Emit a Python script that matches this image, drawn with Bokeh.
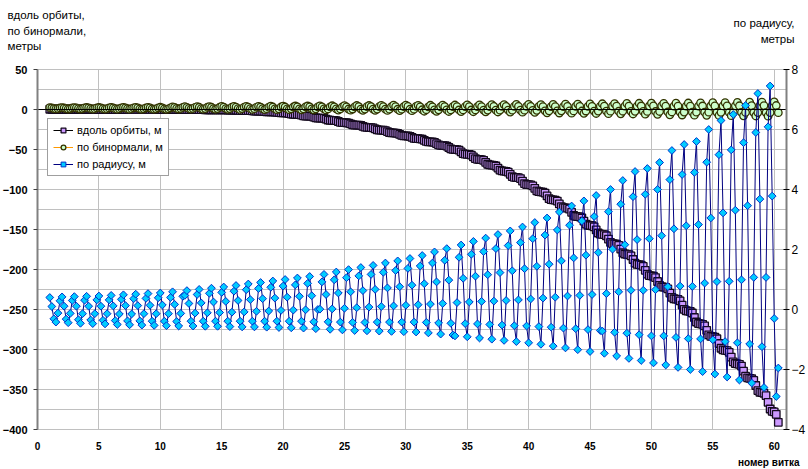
import numpy as np
from bokeh.plotting import figure
from bokeh.models import (Range1d, LinearAxis, FixedTicker, Label, Legend,
                          LegendItem, ColumnDataSource, Grid)
from bokeh.embed import file_html
from bokeh.resources import INLINE

# ---------------- data ----------------
# six samples per orbit, starting at orbit 1
samples_per_orbit = 6
first_orbit = 1

along_orbit_m = [
    0.3, 0.3, 0.3, 0.3, 0.3, 0.3,
    0.3, 0.3, 0.3, 0.3, 0.3, 0.3,
    0.3, 0.3, 0.3, 0.3, 0.3, 0.3,
    0.3, 0.3, 0.3, 0.25, 0.2, 0.2,
    0.2, 0.2, 0.2, 0.2, 0.2, 0.2,
    0.2, 0.2, 0.2, 0.2, 0.2, 0.2,
    0.2, 0.2, 0.2, 0.15, 0.1, 0.1,
    0.1, 0.1, 0.1, 0.1, 0.1, 0.1,
    0.1, 0.1, 0.1, 0.05, 0.0, 0.0,
    0.0, 0.0, 0.0, 0.0, 0.0, 0.0,
    0.0, 0.0, 0.0, -0.05, -0.1, -0.1,
    -0.1, -0.1, -0.1, -0.15, -0.2, -0.2,
    -0.2, -0.2, -0.2, -0.25, -0.3, -0.3,
    -0.3, -0.3, -0.33, -0.4, -0.47, -0.5,
    -0.5, -0.51, -0.56, -0.7, -0.84, -0.89,
    -0.9, -0.92, -0.98, -1.15, -1.33, -1.39,
    -1.4, -1.42, -1.51, -1.75, -2.0, -2.08,
    -2.1, -2.13, -2.24, -2.55, -2.87, -2.97,
    -3.0, -3.04, -3.18, -3.6, -4.02, -4.16,
    -4.2, -4.25, -4.47, -5.1, -5.73, -5.95,
    -6.0, -6.07, -6.35, -7.15, -7.96, -8.23,
    -8.3, -8.38, -8.68, -9.55, -10.43, -10.73,
    -10.8, -10.88, -11.21, -12.15, -13.1, -13.42,
    -13.5, -13.59, -13.95, -15.0, -16.05, -16.41,
    -16.5, -16.59, -16.95, -18.0, -19.05, -19.41,
    -19.5, -19.59, -19.95, -21.0, -22.05, -22.41,
    -22.5, -22.6, -23.0, -24.15, -25.3, -25.7,
    -25.8, -25.91, -26.33, -27.55, -28.78, -29.2,
    -29.3, -29.41, -29.86, -31.15, -32.45, -32.89,
    -33.0, -33.11, -33.53, -34.75, -35.98, -36.4,
    -36.5, -36.62, -37.1, -38.5, -39.9, -40.38,
    -40.5, -40.64, -41.18, -42.75, -44.33, -44.87,
    -45.0, -45.15, -45.75, -47.5, -49.25, -49.85,
    -50.0, -50.18, -50.9, -53.0, -55.1, -55.82,
    -56.0, -56.2, -56.98, -59.25, -61.53, -62.31,
    -62.5, -62.71, -63.55, -66.0, -68.45, -69.29,
    -69.5, -69.73, -70.63, -73.25, -75.88, -76.78,
    -77.0, -77.24, -78.2, -81.0, -83.8, -84.76,
    -85.0, -85.27, -86.35, -89.5, -92.65, -93.73,
    -94.0, -94.27, -95.35, -98.5, -101.65, -102.73,
    -103.0, -103.3, -104.5, -108.0, -111.5, -112.7,
    -113.0, -113.3, -114.5, -118.0, -121.5, -122.7,
    -123.0, -123.33, -124.65, -128.5, -132.35, -133.67,
    -134.0, -134.33, -135.65, -139.5, -143.35, -144.67,
    -145.0, -145.33, -146.65, -150.5, -154.35, -155.67,
    -156.0, -156.36, -157.8, -162.0, -166.2, -167.64,
    -168.0, -168.39, -169.95, -174.5, -179.05, -180.61,
    -181.0, -181.39, -182.95, -187.5, -192.05, -193.61,
    -194.0, -194.42, -196.1, -201.0, -205.9, -207.58,
    -208.0, -208.42, -210.1, -215.0, -219.9, -221.58,
    -222.0, -222.45, -224.25, -229.5, -234.75, -236.55,
    -237.0, -237.45, -239.25, -244.5, -249.75, -251.55,
    -252.0, -252.48, -254.4, -260.0, -265.6, -267.52,
    -268.0, -268.48, -270.4, -276.0, -281.6, -283.52,
    -284.0, -284.51, -286.55, -292.5, -298.45, -300.49,
    -301.0, -301.51, -303.55, -309.5, -315.45, -317.49,
    -318.0, -318.54, -320.7, -327.0, -333.3, -335.46,
    -336.0, -336.54, -338.7, -345.0, -351.3, -353.46,
    -354.0, -354.7, -357.6, -366.0, -374.4, -377.3,
    -378.0, -381.0, -391.0,
]

binormal_m = [
    2.3, 1.9, 1.1, 0.7, 1.1, 1.9,
    2.4, 1.9, 1.1, 0.6, 1.1, 1.9,
    2.4, 2.0, 1.1, 0.6, 1.1, 2.0,
    2.5, 2.0, 1.0, 0.5, 1.0, 2.0,
    2.5, 2.0, 1.0, 0.5, 1.0, 2.0,
    2.6, 2.0, 1.0, 0.4, 1.0, 2.0,
    2.6, 2.1, 1.0, 0.4, 1.0, 2.1,
    2.7, 2.1, 0.9, 0.3, 0.9, 2.1,
    2.7, 2.1, 0.9, 0.3, 0.9, 2.1,
    2.8, 2.1, 0.9, 0.2, 0.9, 2.1,
    3.4, 2.7, 1.3, 0.6, 1.3, 2.7,
    3.5, 2.7, 1.3, 0.5, 1.3, 2.7,
    3.6, 2.8, 1.2, 0.4, 1.2, 2.8,
    3.7, 2.8, 1.2, 0.3, 1.2, 2.8,
    3.8, 2.9, 1.1, 0.2, 1.1, 2.9,
    3.9, 2.9, 1.1, 0.1, 1.1, 2.9,
    4.0, 3.0, 1.0, 0.0, 1.0, 3.0,
    4.0, 3.0, 1.0, -0.1, 1.0, 3.0,
    4.2, 3.1, 0.9, -0.2, 0.9, 3.1,
    4.2, 3.1, 0.9, -0.2, 0.9, 3.1,
    4.4, 3.2, 0.8, -0.4, 0.8, 3.2,
    4.4, 3.2, 0.8, -0.4, 0.8, 3.2,
    4.6, 3.3, 0.7, -0.6, 0.7, 3.3,
    4.7, 3.4, 0.7, -0.7, 0.7, 3.4,
    4.8, 3.4, 0.6, -0.8, 0.6, 3.4,
    5.0, 3.5, 0.5, -1.0, 0.5, 3.5,
    5.0, 3.5, 0.5, -1.0, 0.5, 3.5,
    5.2, 3.6, 0.4, -1.2, 0.4, 3.6,
    5.4, 3.7, 0.3, -1.4, 0.3, 3.7,
    5.5, 3.8, 0.3, -1.5, 0.3, 3.8,
    5.2, 3.3, -0.3, -2.2, -0.3, 3.3,
    5.3, 3.4, -0.4, -2.3, -0.4, 3.4,
    5.5, 3.5, -0.5, -2.5, -0.5, 3.5,
    5.6, 3.6, -0.6, -2.6, -0.6, 3.6,
    5.8, 3.6, -0.6, -2.8, -0.6, 3.6,
    5.9, 3.7, -0.7, -2.9, -0.7, 3.7,
    6.1, 3.8, -0.8, -3.1, -0.8, 3.8,
    6.2, 3.9, -0.9, -3.2, -0.9, 3.9,
    6.4, 3.9, -0.9, -3.4, -0.9, 3.9,
    6.5, 4.0, -1.0, -3.5, -1.0, 4.0,
    6.2, 3.6, -1.6, -4.2, -1.6, 3.6,
    6.4, 3.7, -1.7, -4.4, -1.7, 3.7,
    6.6, 3.8, -1.8, -4.6, -1.8, 3.8,
    6.8, 3.9, -1.9, -4.8, -1.9, 3.9,
    7.0, 4.0, -2.0, -5.0, -2.0, 4.0,
    7.2, 4.1, -2.1, -5.2, -2.1, 4.1,
    7.4, 4.2, -2.2, -5.4, -2.2, 4.2,
    7.6, 4.3, -2.3, -5.6, -2.3, 4.3,
    7.8, 4.4, -2.4, -5.8, -2.4, 4.4,
    8.0, 4.5, -2.5, -6.0, -2.5, 4.5,
    7.7, 4.1, -3.1, -6.7, -3.1, 4.1,
    7.9, 4.2, -3.2, -6.9, -3.2, 4.2,
    8.1, 4.3, -3.3, -7.1, -3.3, 4.3,
    8.3, 4.4, -3.4, -7.3, -3.4, 4.4,
    8.5, 4.5, -3.5, -7.5, -3.5, 4.5,
    8.7, 4.6, -3.6, -7.7, -3.6, 4.6,
    8.9, 4.7, -3.7, -7.9, -3.7, 4.7,
    9.1, 4.8, -3.8, -8.1, -3.8, 4.8,
    9.3, 4.9, -3.9, -8.3, -3.9, 4.9,
    9.5, 5.0, -4.0,
]

radial_m = [
    0.40, 0.10, -0.31, -0.42, -0.12, 0.29,
    0.42, 0.11, -0.32, -0.44, -0.13, 0.30,
    0.43, 0.11, -0.34, -0.46, -0.14, 0.31,
    0.44, 0.11, -0.35, -0.47, -0.14, 0.32,
    0.45, 0.11, -0.36, -0.48, -0.14, 0.32,
    0.47, 0.12, -0.37, -0.50, -0.15, 0.34,
    0.49, 0.13, -0.38, -0.51, -0.15, 0.36,
    0.51, 0.13, -0.38, -0.52, -0.14, 0.37,
    0.53, 0.14, -0.39, -0.53, -0.14, 0.39,
    0.55, 0.15, -0.39, -0.54, -0.14, 0.40,
    0.59, 0.17, -0.40, -0.55, -0.13, 0.44,
    0.47, 0.63, 0.20, -0.39, -0.55, -0.12,
    0.50, 0.67, 0.22, -0.39, -0.56, -0.11,
    0.54, 0.71, 0.25, -0.39, -0.56, -0.10,
    0.57, 0.75, 0.27, -0.39, -0.57, -0.09,
    0.61, 0.80, 0.30, -0.39, -0.58, -0.08,
    0.66, 0.85, 0.33, -0.39, -0.58, -0.06,
    0.70, 0.90, 0.36, -0.39, -0.59, -0.05,
    0.74, 0.95, 0.38, -0.39, -0.60, -0.03,
    0.78, 1.00, 0.41, -0.39, -0.61, -0.02,
    0.82, 1.05, 0.44, -0.39, -0.62, -0.01,
    0.87, 1.10, 0.46, -0.41, -0.64, 0.00,
    0.01, 0.92, 1.17, 0.50, -0.41, -0.66,
    0.02, 0.99, 1.25, 0.55, -0.42, -0.68,
    0.04, 1.06, 1.33, 0.59, -0.43, -0.70,
    0.06, 1.12, 1.40, 0.63, -0.43, -0.71,
    0.08, 1.17, 1.47, 0.67, -0.42, -0.72,
    0.10, 1.24, 1.55, 0.72, -0.42, -0.73,
    0.12, 1.30, 1.62, 0.76, -0.42, -0.74,
    0.14, 1.37, 1.70, 0.81, -0.42, -0.75,
    0.16, 1.45, 1.80, 0.86, -0.43, -0.78,
    0.18, 1.55, 1.92, 0.92, -0.45, -0.82,
    0.20, 1.64, 2.03, 0.98, -0.46, -0.85,
    -0.88, 0.23, 1.74, 2.15, 1.04, -0.47,
    -0.91, 0.25, 1.84, 2.27, 1.11, -0.48,
    -0.95, 0.27, 1.93, 2.38, 1.16, -0.50,
    -0.99, 0.28, 2.03, 2.50, 1.23, -0.52,
    -1.03, 0.30, 2.13, 2.62, 1.29, -0.54,
    -1.07, 0.32, 2.23, 2.75, 1.36, -0.55,
    -1.11, 0.35, 2.36, 2.90, 1.44, -0.57,
    -1.16, 0.38, 2.48, 3.05, 1.51, -0.59,
    -1.22, 0.41, 2.65, 3.25, 1.62, -0.62,
    -1.28, 0.45, 2.81, 3.45, 1.72, -0.64,
    -1.34, 0.47, 2.95, 3.62, 1.81, -0.67,
    -1.40, 0.50, 3.10, 3.80, 1.90, -0.70,
    -0.72, -1.46, 0.53, 3.26, 4.00, 2.01,
    -0.76, -1.55, 0.59, 3.51, 4.30, 2.16,
    -0.79, -1.63, 0.64, 3.76, 4.60, 2.33,
    -0.84, -1.70, 0.64, 3.84, 4.70, 2.36,
    -0.88, -1.78, 0.66, 4.00, 4.90, 2.46,
    -0.88, -1.85, 0.76, 4.33, 5.30, 2.69,
    -0.93, -1.93, 0.78, 4.50, 5.50, 2.79,
    -0.97, -2.00, 0.77, 4.57, 5.60, 2.83,
    -0.98, -2.07, 0.88, 4.91, 6.00, 3.05,
    -1.01, -2.15, 0.93, 5.16, 6.30, 3.22,
    -1.07, -2.25, 0.94, 5.32, 6.50, 3.31,
    -1.11, -2.35, 0.99, 5.56, 6.80, 3.46,
    -1.15, -2.45, 1.07, 5.90, 7.20, 3.68,
    -1.24, -2.60, 1.07, 6.09, 7.45, 3.78,
    -0.30, -2.90, -1.95,
]

x_ticks = [0, 5, 10, 15, 20, 25, 30, 35, 40, 45, 50, 55, 60]
left_ticks = [-400, -350, -300, -250, -200, -150, -100, -50, 0, 50]
right_ticks = [-4, -2, 0, 2, 4, 6, 8]
left_grid = [-400, -375, -350, -325, -300, -275, -250, -225, -200, -175, -150,
             -125, -100, -75, -50, -25, 0, 25, 50]

series_names = ["вдоль орбиты, м", "по бинормали, м", "по радиусу, м"]
left_title = ["вдоль орбиты,", "по бинормали,", "метры"]
right_title = ["по радиусу,", "метры"]
x_title = "номер витка"

# ---------------- layout geometry ----------------
FONT = "Liberation Sans"
W, H = 808, 469
X_MIN, X_MAX = 0, 61          # x extent of the plotting area
L_MIN, L_MAX = -400, 50       # left axis extent
R_MIN, R_MAX = -4, 8          # right axis extent
AREA_L, AREA_R, AREA_T, AREA_B = 37, 786, 69, 429   # plotting area, pixels

sx = (AREA_R - AREA_L) / (X_MAX - X_MIN)
sl = (AREA_B - AREA_T) / (L_MAX - L_MIN)
sr = (AREA_B - AREA_T) / (R_MAX - R_MIN)
x_range = Range1d(X_MIN - AREA_L / sx, X_MAX + (W - AREA_R) / sx)
y_range = Range1d(L_MIN - (H - AREA_B) / sl, L_MAX + AREA_T / sl)
r_range = Range1d(R_MIN - (H - AREA_B) / sr, R_MAX + AREA_T / sr)

def px_to_x(px):
    return X_MIN + (px - AREA_L) / sx

def py_to_y(py):
    return L_MAX - (py - AREA_T) / sl

n = len(radial_m)
orbit = first_orbit + np.arange(n) / samples_per_orbit
src = ColumnDataSource(dict(x=orbit, along=along_orbit_m,
                            binormal=binormal_m, radial=radial_m))

p = figure(width=W, height=H, x_range=x_range, y_range=y_range,
           output_backend="svg", toolbar_location=None, min_border=0,
           x_axis_location=None, y_axis_location=None)
p.title.visible = False
p.outline_line_color = None
p.background_fill_color = "white"
p.border_fill_color = "white"
p.xgrid.visible = False
p.ygrid.visible = False
p.extra_y_ranges = {"r": r_range}

# ---------------- grids ----------------
has_cross = "cross_bounds" in Grid.properties()
if has_cross:
    gx = Grid(dimension=0, ticker=FixedTicker(ticks=x_ticks),
              bounds=(X_MIN, X_MAX), cross_bounds=(L_MIN, L_MAX),
              grid_line_color="#c0c0c0")
    gy = Grid(dimension=1, ticker=FixedTicker(ticks=left_grid),
              bounds=(L_MIN, L_MAX), cross_bounds=(X_MIN, X_MAX),
              grid_line_color="#c0c0c0")
    p.add_layout(gx)
    p.add_layout(gy)
else:
    p.segment(x0=x_ticks, y0=[L_MIN] * len(x_ticks), x1=x_ticks,
              y1=[L_MAX] * len(x_ticks), line_color="#c0c0c0",
              level="underlay")
    p.segment(x0=[X_MIN] * len(left_grid), y0=left_grid,
              x1=[X_MAX] * len(left_grid), y1=left_grid,
              line_color="#c0c0c0", level="underlay")

# ---------------- axes ----------------
xa = LinearAxis(fixed_location=L_MIN, bounds=(X_MIN, X_MAX),
                ticker=FixedTicker(ticks=x_ticks))
xa.axis_line_color = None
xa.major_tick_line_color = None
xa.minor_tick_line_color = None
xa.major_tick_out = 0
xa.major_tick_in = 0
xa.major_label_standoff = 12
xa.major_label_text_font = FONT
xa.major_label_text_font_style = "bold"
xa.major_label_text_font_size = "10px"
xa.major_label_text_color = "black"
p.add_layout(xa, "below")

zero_axis = LinearAxis(fixed_location=0, bounds=(X_MIN, X_MAX),
                       ticker=FixedTicker(ticks=[]))
zero_axis.axis_line_color = "black"
zero_axis.axis_line_width = 1
zero_axis.major_tick_line_color = None
zero_axis.minor_tick_line_color = None
p.add_layout(zero_axis, "below")

ya = LinearAxis(fixed_location=X_MIN, bounds=(L_MIN, L_MAX),
                ticker=FixedTicker(ticks=left_ticks))
ya.axis_line_color = "#808080"
ya.axis_line_width = 2
ya.major_tick_line_color = "#404040"
ya.major_tick_out = 4
ya.major_tick_in = 0
ya.minor_tick_line_color = None
ya.major_label_standoff = 6
ya.major_label_text_font = FONT
ya.major_label_text_font_style = "bold"
ya.major_label_text_font_size = "11px"
ya.major_label_text_color = "black"
p.add_layout(ya, "left")

ra = LinearAxis(y_range_name="r", fixed_location=X_MAX, bounds=(R_MIN, R_MAX),
                ticker=FixedTicker(ticks=right_ticks))
ra.axis_line_color = "#808080"
ra.axis_line_width = 2
ra.major_tick_line_color = "black"
ra.major_tick_out = 3
ra.major_tick_in = 3
ra.minor_tick_line_color = None
ra.major_label_standoff = 2
ra.major_label_text_font = FONT
ra.major_label_text_font_size = "12px"
ra.major_label_text_color = "black"
p.add_layout(ra, "right")

# ---------------- series ----------------
r1l = p.line("x", "along", source=src, line_color="black", line_width=1)
r1m = p.scatter("x", "along", source=src, marker="square", size=7.5,
                fill_color="#CC99FF", line_color="#140a1e", line_width=1.3)
r2l = p.line("x", "binormal", source=src, line_color="#FF9900", line_width=1)
r2m = p.scatter("x", "binormal", source=src, marker="circle", size=7.5,
                fill_color="#CCFFCC", line_color="#333300", line_width=1.3)
r3l = p.line("x", "radial", source=src, y_range_name="r",
             line_color="#000080", line_width=1)
r3m = p.scatter("x", "radial", source=src, y_range_name="r", marker="square",
                angle=np.pi / 4, size=5.5, fill_color="#00CCFF",
                line_color="#0033CC", line_width=1)

legend = Legend(items=[
    LegendItem(label=series_names[0], renderers=[r1l, r1m]),
    LegendItem(label=series_names[1], renderers=[r2l, r2m]),
    LegendItem(label=series_names[2], renderers=[r3l, r3m]),
], location=(47, H - 176))
legend.label_text_font = FONT
legend.label_text_font_size = "11px"
legend.label_text_color = "black"
legend.glyph_width = 20
legend.glyph_height = 12
legend.label_height = 12
legend.label_standoff = 4
legend.spacing = 5
legend.padding = 5
legend.margin = 0
legend.border_line_color = "#404040"
legend.border_line_width = 1
legend.background_fill_color = "white"
legend.background_fill_alpha = 1.0
p.add_layout(legend)

# ---------------- titles ----------------
def add_text(txt, px, py, align, size="11.5px", style="normal"):
    p.add_layout(Label(x=px_to_x(px), y=py_to_y(py), text=txt,
                       text_font=FONT, text_font_size=size,
                       text_font_style=style, text_align=align,
                       text_baseline="middle", text_color="black"))

for txt, py in zip(left_title, [14, 30, 45]):
    add_text(txt, 7, py, "left")
for txt, py in zip(right_title, [22, 38]):
    add_text(txt, 794, py, "right")
add_text(x_title, 799, 462, "right", size="10px", style="bold")

open("out.html", "w").write(file_html(p, INLINE))
